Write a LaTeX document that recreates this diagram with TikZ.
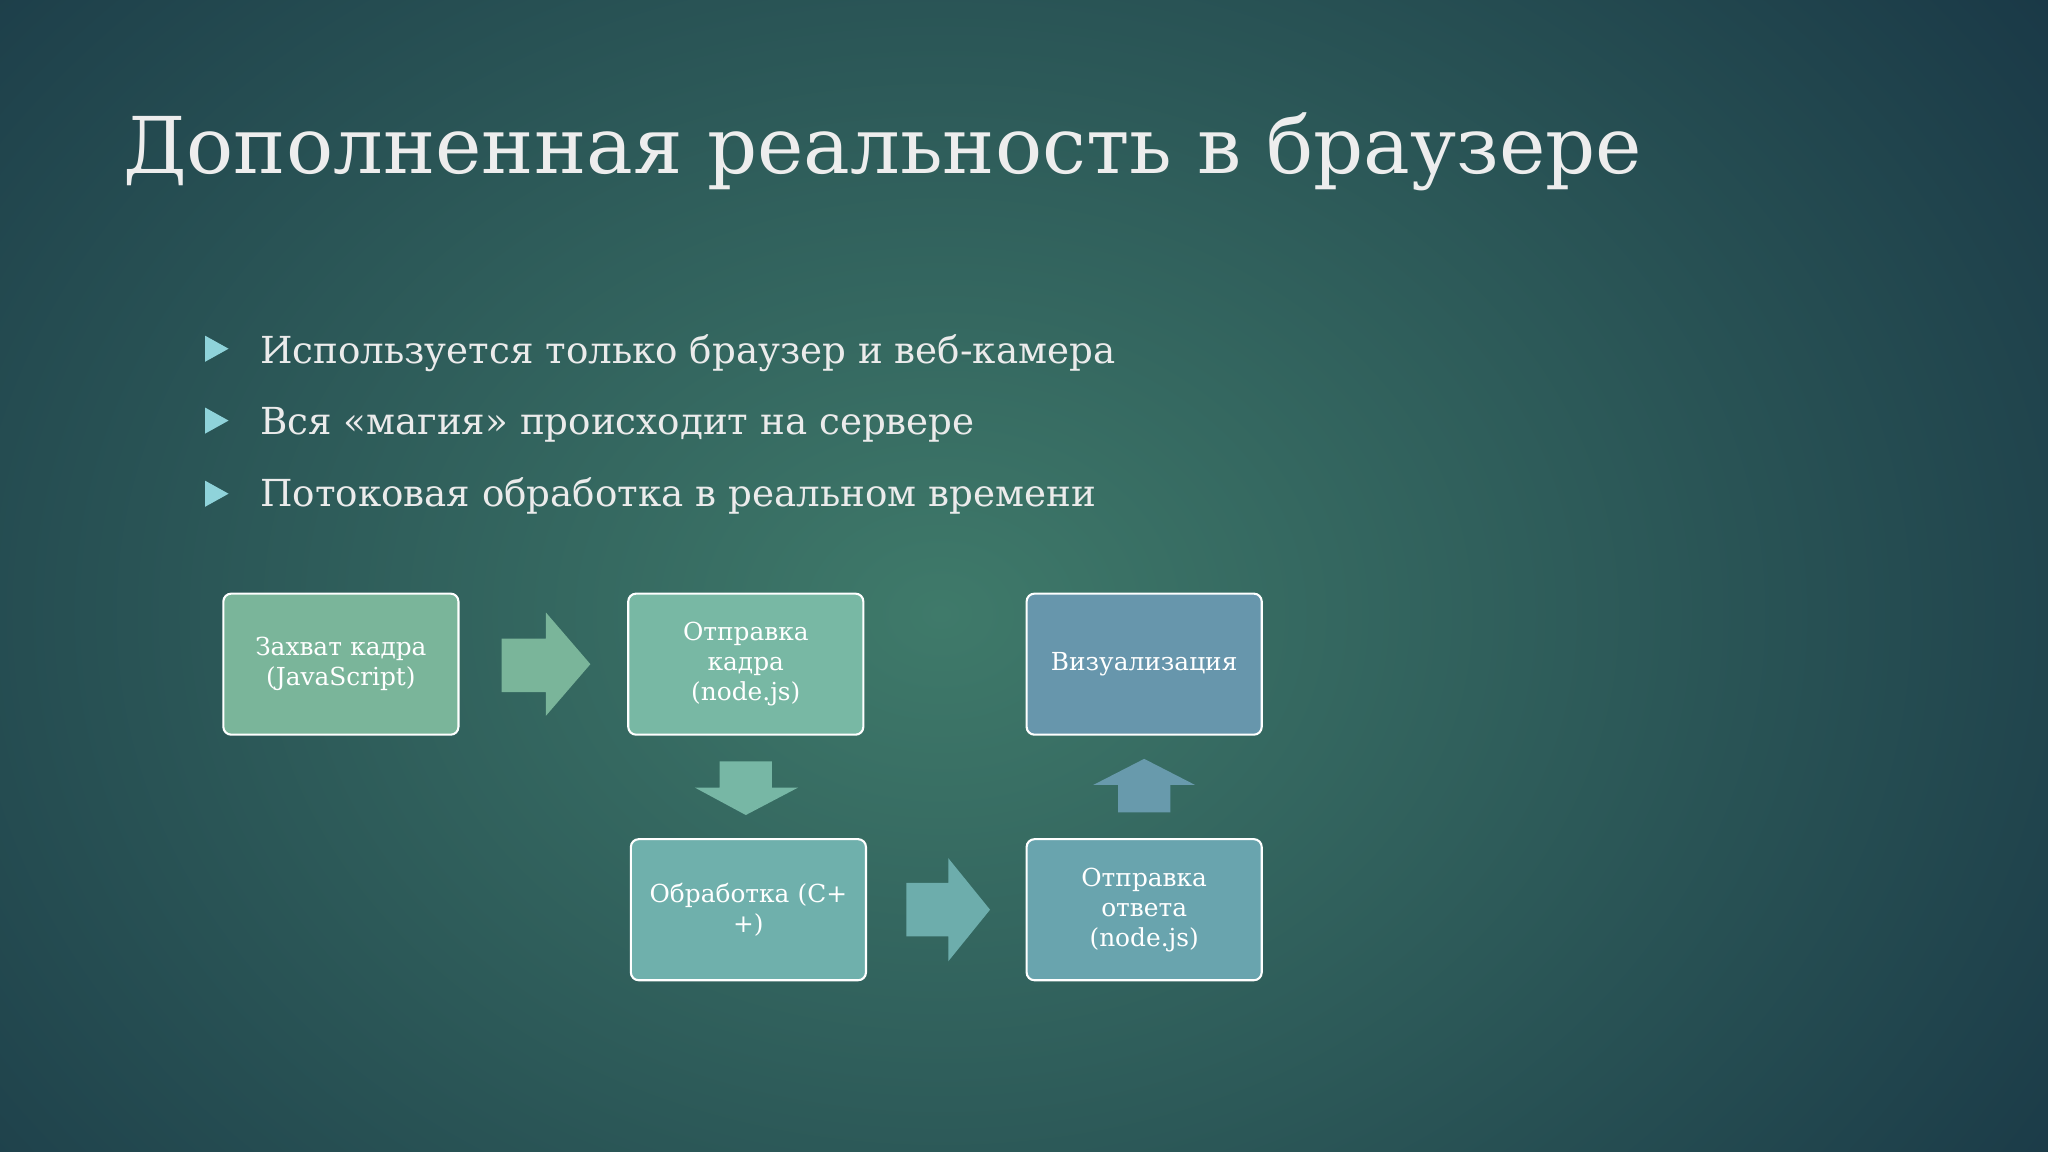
\documentclass[tikz,border=0pt]{standalone}
\usepackage{fontspec}
\setmainfont{DejaVu Serif}
\definecolor{bgin}{HTML}{3F7A6A}
\definecolor{bgout}{HTML}{163243}
\definecolor{bul}{HTML}{8FD3DA}
\definecolor{cA}{HTML}{7AB59A}
\definecolor{cB}{HTML}{78B8A4}
\definecolor{cC}{HTML}{6FB0AC}
\definecolor{cD}{HTML}{69A4AE}
\definecolor{cE}{HTML}{6796AC}
\tikzset{
 box/.style={draw=white,line width=1.6pt,rounded corners=6pt,minimum width=180pt,minimum height=108pt,text=white,font=\fontsize{19}{23}\selectfont,align=center,text width=176pt,inner sep=0pt},
 bt/.style={anchor=base west,text=white!92!black,font=\fontsize{28.5}{34}\selectfont,inner sep=0pt},
 tri/.style={fill=bul}
}
\begin{document}
\begin{tikzpicture}[x=1pt,y=-1pt]
\useasboundingbox (0,0) rectangle (1568,882);
\begin{scope}
\clip (0,0) rectangle (1568,882);
\shade[inner color=bgin,outer color=bgout] (720,470) ellipse (1150 and 900);
\end{scope}
\node[anchor=base west,inner sep=0pt,text=white!93!black,font=\fontsize{60}{70}\selectfont] (title) at (94,133) {Дополненная реальность в браузере};
\fill[tri] (157,257) -- (175,267) -- (157,277) -- cycle;
\fill[tri] (157,312) -- (175,322) -- (157,332) -- cycle;
\fill[tri] (157,368) -- (175,378) -- (157,388) -- cycle;
\node[bt] (b1) at (199,278) {Используется только браузер и веб-камера};
\node[bt] (b2) at (199,333) {Вся «магия» происходит на сервере};
\node[bt] (b3) at (199,388) {Потоковая обработка в реальном времени};
\node[box,fill=cA] (a) at (261,508.5) {Захват кадра\\(JavaScript)};
\node[box,fill=cB] (b) at (571,508.5) {Отправка\\кадра\\(node.js)};
\node[box,fill=cC] (c) at (573,696.5) {Обработка (С+\\+)};
\node[box,fill=cD] (d) at (876,696.5) {Отправка\\ответа\\(node.js)};
\node[box,fill=cE] (e) at (876,508.5) {Визуализация};
% block arrows
\fill[cA] (384,489) -- (418,489) -- (418,469) -- (452,508.5) -- (418,548) -- (418,530) -- (384,530) -- cycle;
\fill[cB!85!cC] (551,583) -- (591,583) -- (591,603) -- (611,603) -- (571,624) -- (532,603) -- (551,603) -- cycle;
\fill[cC!75!cD] (694,676) -- (726,676) -- (726,657) -- (758,696.5) -- (726,736) -- (726,717) -- (694,717) -- cycle;
\fill[cE!75!cD] (856,622) -- (896,622) -- (896,601) -- (915,601) -- (876,581) -- (837,601) -- (856,601) -- cycle;
\end{tikzpicture}
\end{document}
